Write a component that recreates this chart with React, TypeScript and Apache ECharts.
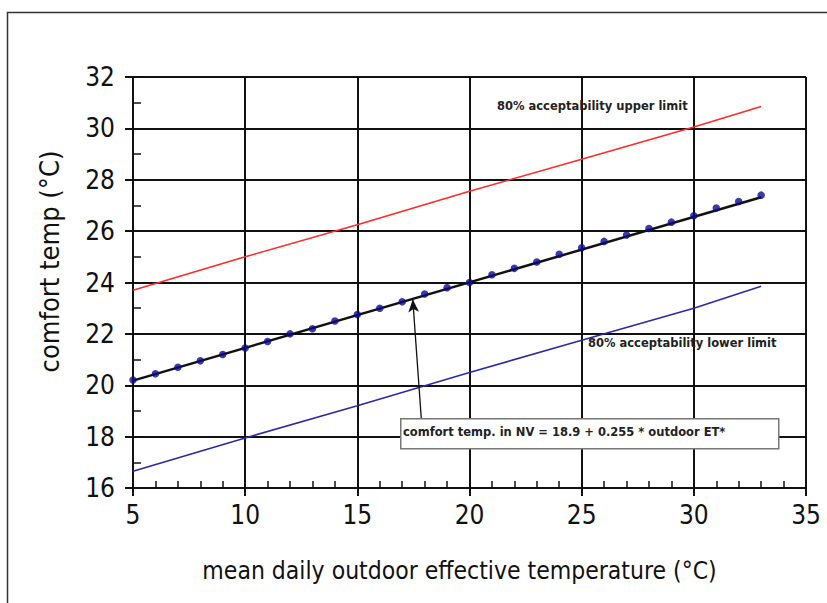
import React, { useEffect, useRef } from "react";
import * as echarts from "echarts";

const xTicks = [5, 10, 15, 20, 25, 30, 35];
const yTicks = [16, 18, 20, 22, 24, 26, 28, 30, 32];

const comfortX = [5, 6, 7, 8, 9, 10, 11, 12, 13, 14, 15, 16, 17, 18, 19, 20, 21, 22, 23, 24, 25, 26, 27, 28, 29, 30, 31, 32, 33];
const comfortObs = [20.2, 20.45, 20.7, 20.95, 21.2, 21.45, 21.7, 22.0, 22.2, 22.5, 22.75, 23.0, 23.25, 23.55, 23.8, 24.0, 24.3, 24.55, 24.8, 25.1, 25.35, 25.6, 25.85, 26.1, 26.35, 26.6, 26.9, 27.15, 27.4];

const fitX = [5, 33];
const fitY = [20.18, 27.32];

const upperX = [5, 10, 15, 20, 25, 30, 33];
const upperY = [23.7, 25.0, 26.25, 27.55, 28.8, 30.05, 30.85];

const lowerX = [5, 10, 15, 20, 25, 30, 33];
const lowerY = [16.65, 17.95, 19.2, 20.5, 21.75, 23.0, 23.85];

const arrowFrom = [17.85, 18.72];
const arrowTo = [17.47, 23.35];

const upperLabel = "80% acceptability upper limit";
const lowerLabel = "80% acceptability lower limit";
const formulaLabel = "comfort temp. in NV = 18.9 + 0.255 * outdoor ET*";
const xName = "mean daily outdoor effective temperature (°C)";
const yName = "comfort temp (°C)";

const FONT = "'Liberation Sans Narrow', 'DejaVu Sans Condensed', 'Liberation Sans', Arial, sans-serif";
const SMALL = "'DejaVu Sans', 'Liberation Sans', Arial, sans-serif";

const zip = (xs: number[], ys: number[]) => xs.map((x, i) => [x, ys[i]]);

export default function App() {
  const ref = useRef<HTMLDivElement>(null);
  useEffect(() => {
    if (!ref.current) return;
    const chart = echarts.init(ref.current, null, { renderer: "svg" });
    const gridLeft = 133, gridTop = 77, gridW = 673, gridH = 411;
    chart.setOption({
      animation: false,
      backgroundColor: "#ffffff",
      grid: { left: gridLeft, top: gridTop, width: gridW, height: gridH, containLabel: false },
      xAxis: [
        {
          type: "value", min: xTicks[0], max: xTicks[xTicks.length - 1], interval: 5,
          name: xName, nameLocation: "middle", nameGap: 70,
          nameTextStyle: { fontFamily: FONT, fontSize: 24.5, color: "#111", padding: [0, 20, 0, 0] },
          axisLine: { show: true, lineStyle: { color: "#111", width: 2 } },
          axisTick: { show: true, inside: false, length: 8, lineStyle: { color: "#111", width: 2 } },
          axisLabel: { margin: 14, fontFamily: FONT, fontSize: 26, color: "#111" },
          splitLine: { show: true, lineStyle: { color: "#111", width: 2 } },
        },
        {
          type: "value", min: 5, max: 35, interval: 1, position: "bottom",
          axisLine: { show: false }, axisLabel: { show: false }, splitLine: { show: false },
          axisTick: { show: true, inside: true, length: 7, lineStyle: { color: "#111", width: 1.5 } },
        },
      ],
      yAxis: [
        {
          type: "value", min: yTicks[0], max: yTicks[yTicks.length - 1], interval: 2,
          name: yName, nameLocation: "middle", nameGap: 70,
          nameTextStyle: { fontFamily: FONT, fontSize: 27, color: "#111", padding: [0, 0, 0, 42] },
          axisLine: { show: true, lineStyle: { color: "#111", width: 2 } },
          axisTick: { show: true, inside: false, length: 8, lineStyle: { color: "#111", width: 2 } },
          axisLabel: { margin: 18, fontFamily: FONT, fontSize: 26, color: "#111" },
          splitLine: { show: true, lineStyle: { color: "#111", width: 2 } },
        },
        {
          type: "value", min: 16, max: 32, interval: 1, position: "left",
          axisLine: { show: false }, axisLabel: { show: false }, splitLine: { show: false },
          axisTick: { show: true, inside: true, length: 8, lineStyle: { color: "#111", width: 1.5 } },
        },
      ],
      series: [
        {
          type: "line", name: "upper", data: zip(upperX, upperY), showSymbol: false, symbol: "none",
          lineStyle: { color: "#ff2a2a", width: 1.6 }, z: 3,
        },
        {
          type: "line", name: "lower", data: zip(lowerX, lowerY), showSymbol: false, symbol: "none",
          lineStyle: { color: "#2a2aa8", width: 1.6 }, z: 3,
        },
        {
          type: "line", name: "fit", data: zip(fitX, fitY), showSymbol: false, symbol: "none",
          lineStyle: { color: "#111", width: 2.5 }, z: 4,
          markLine: {
            silent: true, symbol: ["none", "arrow"], symbolSize: [8, 13],
            label: { show: false },
            lineStyle: { color: "#111", width: 1.3, type: "solid" },
            data: [[{ coord: arrowFrom }, { coord: arrowTo }]],
          },
        },
        {
          type: "scatter", name: "observed", data: zip(comfortX, comfortObs),
          symbol: "circle", symbolSize: 7.5, itemStyle: { color: "#0a0a8c" }, z: 5,
        },
      ],
      graphic: [
        {
          type: "rect", left: 5, top: 10, silent: true,
          shape: { width: 900, height: 700 },
          style: { fill: "none", stroke: "#333", lineWidth: 1.5 },
        },
        {
          type: "text", left: 497, top: 100, z: 10,
          style: { text: upperLabel, font: `bold 11.5px ${SMALL}`, fill: "#222" },
        },
        {
          type: "text", left: 588, top: 337, z: 10,
          style: { text: lowerLabel, font: `bold 11.5px ${SMALL}`, fill: "#222" },
        },
        {
          type: "rect", left: 400, top: 418, z: 10,
          shape: { width: 378, height: 30 },
          style: { fill: "#ffffff", stroke: "#777", lineWidth: 1.5 },
        },
        {
          type: "text", left: 403, top: 426, z: 11,
          style: { text: formulaLabel, font: `bold 11.5px ${SMALL}`, fill: "#222" },
        },
      ],
    });
    return () => chart.dispose();
  }, []);
  return <div ref={ref} style={{ position: "fixed", left: 0, top: 0, width: 827, height: 603 }} />;
}
